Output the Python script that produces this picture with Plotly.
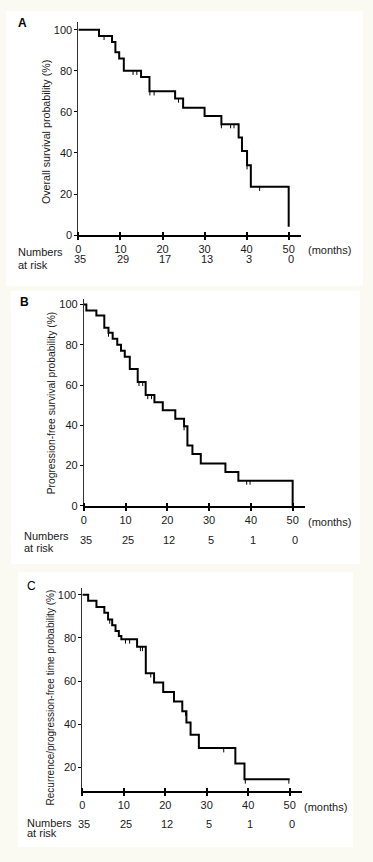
import plotly.graph_objects as go

# ---------------- data ----------------
months_ticks = [0, 10, 20, 30, 40, 50]

# Panel A: overall survival
a_time = [0, 4.9, 8.0, 8.8, 9.7, 10.8, 14.9, 16.9, 23.0, 24.9, 30.0, 34.0, 38.1, 38.9, 40.1, 41.0, 50.0]
a_surv = [100, 97, 94, 89, 86, 80, 77, 70, 66.5, 62, 58, 54, 47.5, 41, 34, 23.5, 4]
a_cens = [6.1, 13.0, 13.9, 17.0, 18.0, 23.8, 34.0, 36.2, 37.0, 38.8, 40.1, 43.1]
a_risk = ["35", "29", "17", "13", "3", "0"]

# Panel B: progression-free survival
b_time = [0, 0.6, 3.0, 4.9, 5.9, 6.9, 8.0, 8.9, 9.8, 11.0, 12.9, 14.8, 16.9, 18.9, 21.9, 24.0, 24.8, 26.0, 28.0, 33.9, 37.0, 50.0]
b_surv = [100, 97, 94.5, 88.5, 86, 83, 80, 77, 74, 68, 61.5, 55, 51.5, 47.5, 43.3, 39.5, 30, 25.7, 21, 16.8, 12.5, 0]
b_cens = [5.9, 13.2, 14.1, 15.3, 16.2, 24.0, 39.0, 39.8]
b_risk = ["35", "25", "12", "5", "1", "0"]

# Panel C: recurrence/progression-free time
c_time = [0, 1.4, 3.4, 5.3, 6.2, 7.2, 8.0, 8.8, 9.4, 13.2, 15.3, 17.3, 19.5, 22.1, 24.1, 25.1, 26.1, 28.1, 36.9, 39.1, 50.0]
c_surv = [100, 97.3, 94.4, 91.7, 88.6, 85.9, 83.2, 80.9, 79.4, 75.9, 63.7, 59.4, 55, 50.6, 46, 40.8, 35.2, 29, 21.8, 14.5, 14.5]
c_cens = [6.6, 10.4, 11.4, 14.0, 14.5, 16.5, 24.9, 34.1, 39.3, 49.8]
c_risk = ["35", "25", "12", "5", "1", "0"]

# ---------------- helpers ----------------
W, H = 373, 862
def px(x):
    return x / W
def py(y):
    return 1 - y / H

def step_value(times, surv, t):
    v = surv[0]
    for ti, si in zip(times, surv):
        if ti <= t:
            v = si
        else:
            break
    return v

def cens_trace(times, surv, cens, drop, xa, ya):
    xs, ys = [], []
    for t in cens:
        s = step_value(times, surv, t)
        xs += [t, t, None]
        ys += [s, s - drop, None]
    return go.Scatter(x=xs, y=ys, mode="lines", line=dict(color="black", width=1),
                      xaxis=xa, yaxis=ya, hoverinfo="skip", showlegend=False)

FONT = "Arial, Liberation Sans, sans-serif"
TXT = "#1a1a1a"

fig = go.Figure()

panels = [
    # times, surv, cens, risk, xa, ya, x0px, xendpx, pxPerMonth, ybot_px, ytop_px, yrange, yticks, drop
    (a_time, a_surv, a_cens, a_risk, "x", "y", 76, 300, 4.24, 236, 20.7, [0, 104.0], [0, 20, 40, 60, 80, 100], 2.0),
    (b_time, b_surv, b_cens, b_risk, "x2", "y2", 81.5, 304, 4.21, 509, 300.7, [0, 102.6], [0, 20, 40, 60, 80, 100], 2.0),
    (c_time, c_surv, c_cens, c_risk, "x3", "y3", 80, 301.7, 4.18, 796.7, 591.7, [9, 103.2], [20, 40, 60, 80, 100], 2.0),
]

for (t, s, c, r, xa, ya, x0, x1, ppm, yb, yt, yr, ytk, drop) in panels:
    fig.add_trace(go.Scatter(x=t, y=s, mode="lines", line=dict(color="black", width=2, shape="hv"),
                             xaxis=xa, yaxis=ya, hoverinfo="skip", showlegend=False))
    fig.add_trace(cens_trace(t, s, c, drop, xa, ya))

layout = dict(
    width=W, height=H, margin=dict(l=0, r=0, t=0, b=0),
    paper_bgcolor="#fafaf2", plot_bgcolor="rgba(0,0,0,0)",
    font=dict(family=FONT, size=11, color=TXT),
    showlegend=False,
)

axis_common_x = dict(showline=True, linecolor="black", linewidth=1.5, showgrid=False, zeroline=False,
                     ticks="outside", ticklen=3, tickwidth=1.5, tickcolor="black",
                     tickvals=months_ticks, ticktext=[str(v) for v in months_ticks],
                     tickfont=dict(family=FONT, size=11, color=TXT),
                     minor=dict(ticks="inside", tickvals=months_ticks, ticklen=3, tickwidth=1.5, tickcolor="black"),
                     fixedrange=True)
axis_common_y = dict(showline=True, linecolor="#333", linewidth=1, showgrid=False, zeroline=False,
                     ticks="outside", ticklen=3, tickwidth=1, tickcolor="black",
                     tickfont=dict(family=FONT, size=11, color=TXT), fixedrange=True)

names = [("xaxis", "yaxis", "y", "x"), ("xaxis2", "yaxis2", "y2", "x2"), ("xaxis3", "yaxis3", "y3", "x3")]
for (xn, yn, yanc, xanc), p in zip(names, panels):
    (t, s, c, r, xa, ya, x0, x1, ppm, yb, yt, yr, ytk, drop) = p
    layout[xn] = dict(axis_common_x, domain=[px(x0), px(x1)], range=[0, (x1 - x0) / ppm], anchor=yanc)
    layout[yn] = dict(axis_common_y, domain=[py(yb), py(yt)], range=yr, anchor=xanc,
                      tickvals=ytk, ticktext=[str(v) for v in ytk])

# white panel boxes
shapes = []
for (x0, y0, x1, y1) in [(3, 10, 363, 287), (8, 292, 360, 567.5), (15, 576, 353, 853)]:
    shapes.append(dict(type="rect", xref="paper", yref="paper", x0=px(x0), x1=px(x1), y0=py(y1), y1=py(y0),
                       fillcolor="white", line=dict(width=0), layer="below"))
layout["shapes"] = shapes

ann = []
# panel letters
ann.append(dict(text="<b>A</b>", x=px(20), y=py(22), xref="paper", yref="paper", showarrow=False,
                font=dict(size=12, color="black"), xanchor="center", yanchor="middle"))
ann.append(dict(text="<b>B</b>", x=px(22), y=py(303), xref="paper", yref="paper", showarrow=False,
                font=dict(size=12, color="black"), xanchor="center", yanchor="middle"))
ann.append(dict(text="C", x=px(29), y=py(590), xref="paper", yref="paper", showarrow=False,
                font=dict(size=12, color="black"), xanchor="center", yanchor="middle"))
# y titles
ytitles = [("Overall survival probability (%)", 44, 132.5, 10.7),
           ("Progression-free survival probability (%)", 49, 405, 10.3),
           ("Recurrence/progression-free time probability (%)", 48, 702.5, 10.0)]
for txt, x, y, fs in ytitles:
    ann.append(dict(text=txt, x=px(x), y=py(y), xref="paper", yref="paper", showarrow=False, textangle=-90,
                    font=dict(size=fs, color=TXT), xanchor="center", yanchor="middle"))
# (months), Numbers at risk
rows = [(250.7, 252.7, 266, 260, "x"), (525, 539.3, 551.7, 543, "x2"), (812.7, 828.3, 839, 829.5, "x3")]
lefts = [13, 19, 21.7]
mcent = [329, 329, 325]
for i, ((ym, yn1, yn2, yv, xr), r) in enumerate(zip(rows, [a_risk, b_risk, c_risk])):
    ann.append(dict(text="(months)", x=px(mcent[i]), y=py(ym), xref="paper", yref="paper", showarrow=False,
                    font=dict(size=11, color=TXT), xanchor="center", yanchor="middle"))
    ann.append(dict(text="Numbers", x=px(lefts[i]), y=py(yn1), xref="paper", yref="paper", showarrow=False,
                    font=dict(size=11, color=TXT), xanchor="left", yanchor="middle"))
    ann.append(dict(text="at risk", x=px(lefts[i]), y=py(yn2), xref="paper", yref="paper", showarrow=False,
                    font=dict(size=11, color=TXT), xanchor="left", yanchor="middle"))
    for tv, val in zip(months_ticks, r):
        ann.append(dict(text=val, x=tv + 0.5, y=py(yv), xref=xr, yref="paper", showarrow=False,
                        font=dict(size=11, color=TXT), xanchor="center", yanchor="middle"))
layout["annotations"] = ann

fig.update_layout(**layout)
fig.write_html("out.html", config={"displayModeBar": False},
               post_script="document.body.style.margin='0';document.body.style.overflow='hidden';")
